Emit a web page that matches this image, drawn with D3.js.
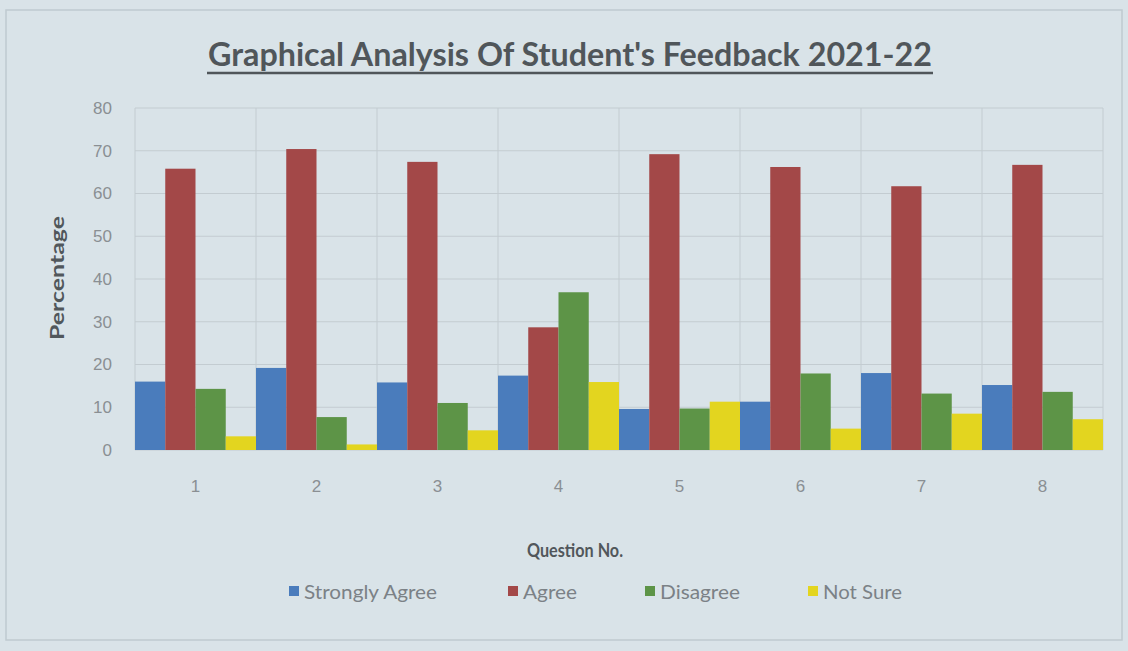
<!DOCTYPE html>
<html>
<head>
<meta charset="utf-8">
<script src="https://cdn.jsdelivr.net/npm/d3@7"></script>
<style>
  body { margin: 0; background: #d9e3e8; }
  svg { display: block; font-family: Lato, "Open Sans", sans-serif; }
</style>
</head>
<body>
<svg width="1128" height="651"></svg>
<script>
var questions = ["1", "2", "3", "4", "5", "6", "7", "8"];
var seriesNames = ["Strongly Agree", "Agree", "Disagree", "Not Sure"];
var stronglyAgree = [16, 19.2, 15.8, 17.4, 9.6, 11.3, 18, 15.2];
var agree = [65.8, 70.4, 67.4, 28.7, 69.2, 66.2, 61.7, 66.7];
var disagree = [14.3, 7.7, 11, 36.9, 9.7, 17.9, 13.2, 13.6];
var notSure = [3.2, 1.3, 4.6, 15.9, 11.3, 5, 8.5, 7.2];
var yTicks = [0, 10, 20, 30, 40, 50, 60, 70, 80];
var colors = ["#4a7cbc", "#a34848", "#5d9447", "#e3d51f"];

var values = [stronglyAgree, agree, disagree, notSure];

var svg = d3.select("svg");

var margin = { top: 108, right: 25, bottom: 201, left: 135 };
var width = 1128 - margin.left - margin.right;
var height = 651 - margin.top - margin.bottom;

// faint outer frame of the printed chart
svg.append("rect")
    .attr("x", 6).attr("y", 10)
    .attr("width", 1116).attr("height", 630)
    .attr("fill", "none")
    .attr("stroke", "#bfcacf")
    .attr("stroke-width", 1.5);

var g = svg.append("g").attr("transform", "translate(" + margin.left + "," + margin.top + ")");

var x0 = d3.scaleBand().domain(questions).range([0, width]).padding(0);
var x1 = d3.scaleBand().domain(seriesNames).range([0, x0.bandwidth()]).padding(0);
var y = d3.scaleLinear().domain([0, 80]).range([height, 0]);

// horizontal gridlines
g.append("g")
    .selectAll("line")
    .data(yTicks)
    .enter().append("line")
    .attr("x1", 0).attr("x2", width)
    .attr("y1", function (d) { return y(d); })
    .attr("y2", function (d) { return y(d); })
    .attr("stroke", "#c3ccd1");

// vertical gridlines between categories
g.append("g")
    .selectAll("line")
    .data(questions.concat(["end"]))
    .enter().append("line")
    .attr("x1", function (d, i) { return i * x0.bandwidth(); })
    .attr("x2", function (d, i) { return i * x0.bandwidth(); })
    .attr("y1", 0).attr("y2", height)
    .attr("stroke", "#c3ccd1");

var groups = g.selectAll(".question")
    .data(questions)
    .enter().append("g")
    .attr("class", "question")
    .attr("transform", function (d) { return "translate(" + x0(d) + ",0)"; });

groups.selectAll("rect")
    .data(function (q, qi) {
        return seriesNames.map(function (s, si) { return { series: s, value: values[si][qi], color: colors[si] }; });
    })
    .enter().append("rect")
    .attr("x", function (d) { return x1(d.series); })
    .attr("width", x1.bandwidth())
    .attr("y", function (d) { return y(d.value); })
    .attr("height", function (d) { return height - y(d.value); })
    .attr("fill", function (d) { return d.color; });

// y axis
var yAxis = g.append("g")
    .call(d3.axisLeft(y).tickValues(yTicks).tickSize(0).tickPadding(23));
yAxis.select(".domain").remove();
yAxis.selectAll("text")
    .attr("fill", "#8a8f93")
    .style("font-size", "17px");

// x axis
var xAxis = g.append("g")
    .attr("transform", "translate(0," + height + ")")
    .call(d3.axisBottom(x0).tickSize(0).tickPadding(30));
xAxis.select(".domain").remove();
xAxis.selectAll("text")
    .attr("fill", "#8a8f93")
    .style("font-size", "17px");

// title
svg.append("text")
    .attr("x", 570).attr("y", 66)
    .attr("text-anchor", "middle")
    .attr("fill", "#50565a")
    .style("font-size", "33px")
    .style("font-weight", "bold")
    .attr("textLength", 724)
    .attr("lengthAdjust", "spacingAndGlyphs")
    .text("Graphical Analysis Of Student's Feedback  2021-22");

svg.append("line")
    .attr("x1", 207).attr("x2", 933)
    .attr("y1", 73).attr("y2", 73)
    .attr("stroke", "#50565a")
    .attr("stroke-width", 2.5);

// axis titles
svg.append("text")
    .attr("transform", "translate(64,278) rotate(-90)")
    .attr("text-anchor", "middle")
    .attr("fill", "#51575b")
    .style("font-size", "19px")
    .style("font-weight", "bold")
    .attr("textLength", 124)
    .attr("lengthAdjust", "spacingAndGlyphs")
    .text("Percentage");

svg.append("text")
    .attr("x", 575).attr("y", 557)
    .attr("text-anchor", "middle")
    .attr("fill", "#51575b")
    .style("font-size", "19px")
    .style("font-weight", "bold")
    .attr("textLength", 96)
    .attr("lengthAdjust", "spacingAndGlyphs")
    .text("Question No.");

// legend
var legendX = [289, 508, 645, 808];
var legendW = [133, 54, 80, 79];
var legend = svg.selectAll(".legend")
    .data(seriesNames)
    .enter().append("g")
    .attr("class", "legend")
    .attr("transform", function (d, i) { return "translate(" + legendX[i] + ",592)"; });

legend.append("rect")
    .attr("x", 0).attr("y", -6)
    .attr("width", 10).attr("height", 10)
    .attr("fill", function (d, i) { return colors[i]; });

legend.append("text")
    .attr("x", 15).attr("y", 0)
    .attr("dy", "0.35em")
    .attr("fill", "#7b8186")
    .style("font-size", "19px")
    .attr("textLength", function (d, i) { return legendW[i]; })
    .attr("lengthAdjust", "spacingAndGlyphs")
    .text(function (d) { return d; });
</script>
</body>
</html>
